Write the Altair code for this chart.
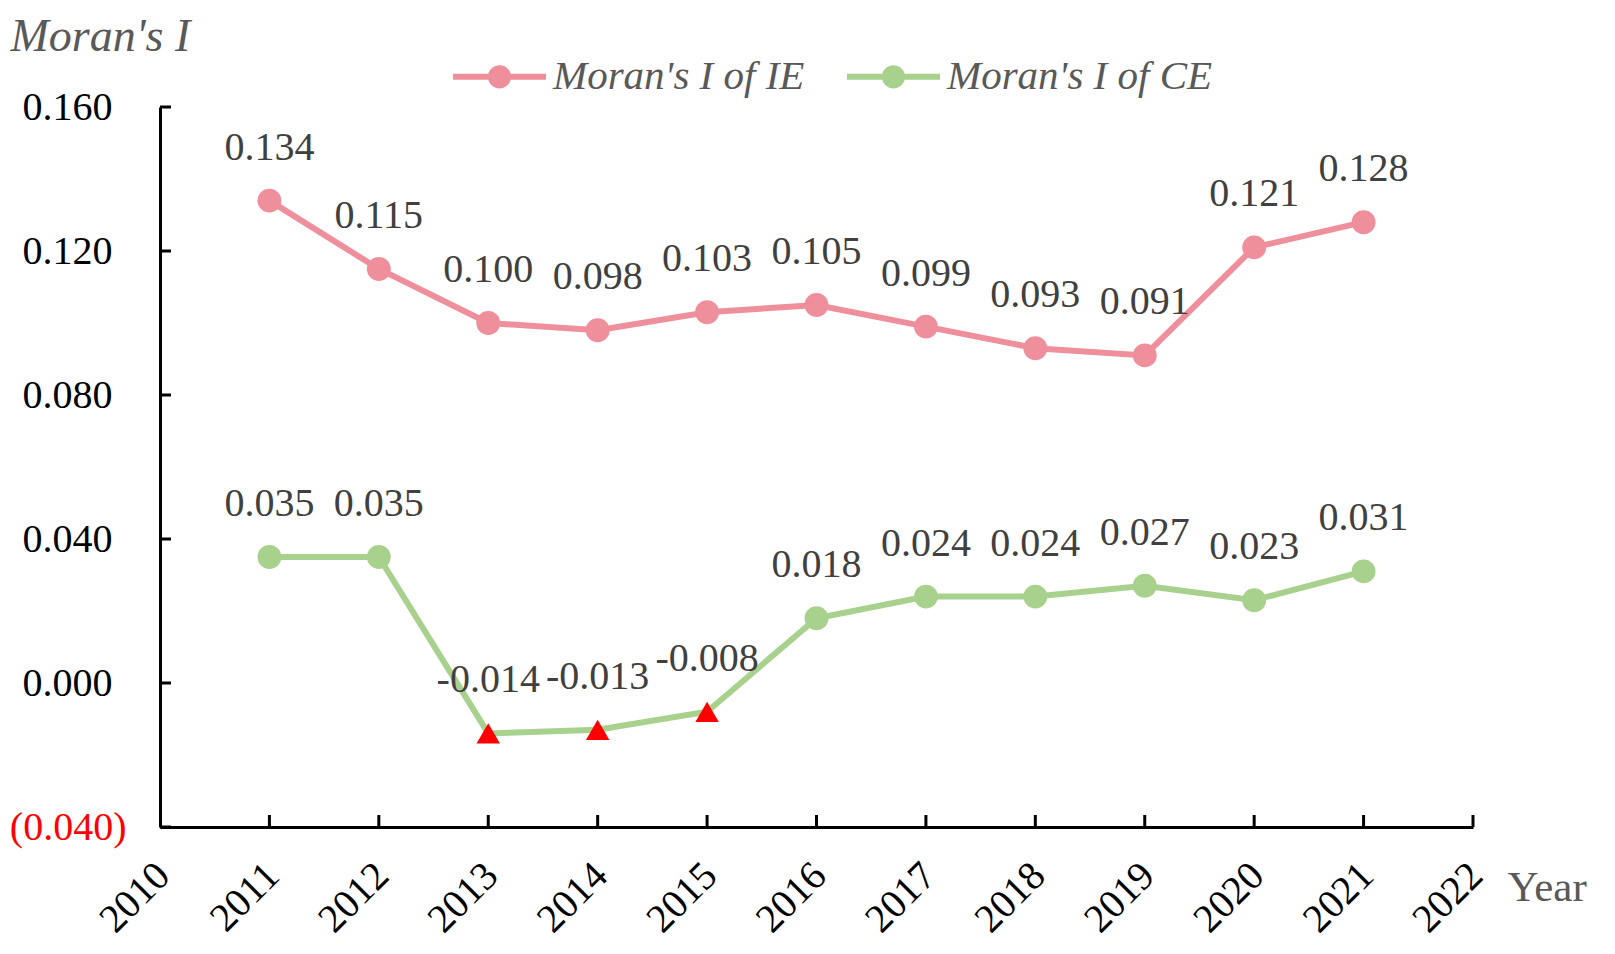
import altair as alt
import pandas as pd

years = list(range(2011, 2022))
ie_values = [0.134, 0.115, 0.100, 0.098, 0.103, 0.105, 0.099, 0.093, 0.091, 0.121, 0.128]
ce_values = [0.035, 0.035, -0.014, -0.013, -0.008, 0.018, 0.024, 0.024, 0.027, 0.023, 0.031]
series_names = ["Moran's I of IE", "Moran's I of CE"]
series_colors = ["#EF8F9C", "#A9D18E"]
y_ticks = [-0.04, 0.0, 0.04, 0.08, 0.12, 0.16]
x_ticks = list(range(2010, 2023))

FONT = "Liberation Serif"

values = ie_values + ce_values
df = pd.DataFrame({
    "year": years * 2,
    "value": values,
    "series": [series_names[0]] * len(years) + [series_names[1]] * len(years),
    "label": [f"{v:.3f}" for v in values],
})
ytick_df = pd.DataFrame({"value": y_ticks})
xtick_df = pd.DataFrame({"year": x_ticks[1:]})

W, H = 1313, 720

xscale = alt.Scale(domain=[2010, 2022], nice=False, zero=False)
yscale = alt.Scale(domain=[-0.04, 0.16], nice=False, zero=False)

x_axis = alt.Axis(
    values=x_ticks, format="d", labelAngle=-45, labelAlign="right", labelBaseline="middle",
    labelPadding=42, labelOffset=3, ticks=False, tickSize=0, grid=False,
    labelFont=FONT, labelFontSize=40, labelColor="#000000",
    domainColor="#000000", domainWidth=3,
    title="Year", titleX=1347, titleY=73, titleAlign="left", titleBaseline="alphabetic",
    titleFont=FONT, titleFontSize=43, titleFontWeight="normal", titleColor="#595959",
)
# main y axis: non-negative ticks
y_axis_main = alt.Axis(
    orient="left",
    values=[v for v in y_ticks if v >= 0], format=".3f",
    labelPadding=48, ticks=False, tickSize=0, grid=False,
    labelFont=FONT, labelFontSize=40, labelColor="#000000",
    domainColor="#000000", domainWidth=3,
    title="Moran's I", titleAngle=0, titleX=-150, titleY=-57, titleAlign="left",
    titleBaseline="alphabetic", titleFont=FONT, titleFontSize=46, titleFontStyle="italic",
    titleFontWeight="normal", titleColor="#595959",
)
# negative tick label shown in red accounting format
y_axis_neg = alt.Axis(
    orient="left",
    values=[v for v in y_ticks if v < 0],
    labelExpr="'(' + format(-datum.value, '.3f') + ')'",
    labelPadding=34, ticks=False, tickSize=0, grid=False, domain=False,
    labelFont=FONT, labelFontSize=40, labelColor="#FF0000", title=None,
)

legend_symbol = ("M-1,-0.065L1,-0.065L1,0.065L-1,0.065Z "
                 "M0.25,0A0.25,0.25 0 1,1 -0.25,0A0.25,0.25 0 1,1 0.25,0Z")

X = alt.X("year:Q", scale=xscale, title="Year")
Y = alt.Y("value:Q", scale=yscale, axis=None)

base = alt.Chart(df)

y_axes = [y_axis_main, y_axis_neg]
line_layers = []
for i, (name, col) in enumerate(zip(series_names, series_colors)):
    line_layers.append(
        base.transform_filter(alt.datum.series == name)
        .mark_line(strokeWidth=6, color=col)
        .encode(
            x=alt.X("year:Q", scale=xscale, axis=x_axis) if i == 0 else X,
            y=alt.Y("value:Q", scale=yscale, axis=y_axes[i]),
        )
    )

circles = base.transform_filter("datum.value >= 0").mark_point(
    filled=True, shape="circle", size=570, opacity=1, strokeWidth=0
).encode(
    x=X, y=Y,
    fill=alt.Fill("series:N", scale=alt.Scale(domain=series_names, range=series_colors),
                  legend=alt.Legend(
        orient="none", legendX=293, legendY=-77, direction="horizontal", title=None,
        symbolType=legend_symbol, symbolSize=8649, symbolStrokeWidth=0, symbolOpacity=1,
        labelFont=FONT, labelFontSize=41, labelFontStyle="italic", labelColor="#595959",
        labelOffset=7, columnPadding=42, padding=0, labelLimit=0,
    )),
)

triangles = base.transform_filter("datum.value < 0").mark_point(
    filled=True, shape="triangle-up", size=550, opacity=1, color="#FF0000", strokeWidth=0
).encode(x=X, y=Y)

labels = base.mark_text(dy=-53, font=FONT, fontSize=40, color="#404040").encode(
    x=X, y=Y, text="label:N",
)

yticks = alt.Chart(ytick_df).mark_rule(strokeWidth=3, color="#000000").encode(
    y=Y, x=alt.value(0), x2=alt.value(11),
)
xticks = alt.Chart(xtick_df).mark_rule(strokeWidth=3, color="#000000").encode(
    x=X, y=alt.value(H), y2=alt.value(H - 12),
)

chart = alt.layer(*line_layers, circles, triangles, labels, yticks, xticks).resolve_axis(
    y="independent"
).properties(
    width=W, height=H,
    autosize=alt.AutoSizeParams(type="none"),
    padding={"left": 152, "top": 99, "right": 120, "bottom": 114},
    background="#FFFFFF",
).configure_view(stroke=None)

chart.save("out.html", embed_options={"renderer": "svg", "actions": False})
